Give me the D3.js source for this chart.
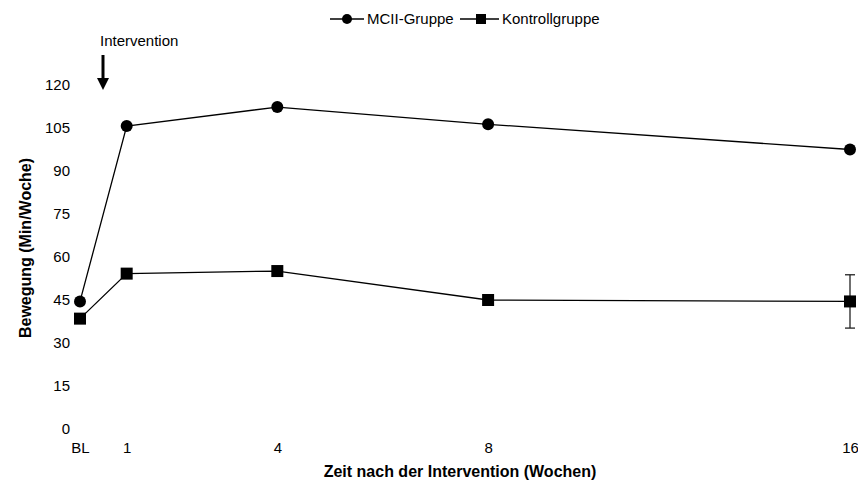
<!DOCTYPE html>
<html><head><meta charset="utf-8">
<script src="https://cdn.jsdelivr.net/npm/d3@7/dist/d3.min.js"></script>
<style>body{margin:0;background:#fff}svg{display:block}text{font-family:"Liberation Sans",Arial,sans-serif;fill:#000}</style>
</head><body><svg id="c" width="858" height="487"></svg>
<script>
const timeLabels = ["BL", "1", "4", "8", "16"];
const plotWeeks = [0, 0.97, 4.1, 8.48, 16];
const mciiValues = [44.5, 105.7, 112.3, 106.3, 97.5];
const controlValues = [38.5, 54.2, 55.1, 45, 44.5];
const controlErrors = [0, 0, 0, 0, 9.3];
const yTicks = [0, 15, 30, 45, 60, 75, 90, 105, 120];

const svg = d3.select("#c");
const x = d3.scaleLinear().domain([0, 16]).range([80, 850]);
const y = d3.scaleLinear().domain([0, 120]).range([429, 85]);

// y axis (labels only)
const yAxis = d3.axisLeft(y).tickValues(yTicks).tickSize(0).tickPadding(0);
const gy = svg.append("g").attr("transform", "translate(70,0)").call(yAxis);
gy.select(".domain").remove();
gy.selectAll("text").style("font-size", "15px").style("font-family", "Liberation Sans, Arial, sans-serif").attr("fill", "#000");

// x axis (labels only)
const xAxis = d3.axisBottom(x).tickValues(plotWeeks).tickFormat((d, i) => timeLabels[i]).tickSize(0).tickPadding(0);
const gx = svg.append("g").attr("transform", "translate(0,442)").call(xAxis);
gx.select(".domain").remove();
gx.selectAll("text").style("font-size", "15px").style("font-family", "Liberation Sans, Arial, sans-serif").attr("fill", "#000");

// axis titles
svg.append("text").attr("x", 460).attr("y", 477).attr("text-anchor", "middle")
  .style("font-size", "16px").style("font-weight", "bold").text("Zeit nach der Intervention (Wochen)");
svg.append("text").attr("transform", "translate(31,248) rotate(-90)").attr("text-anchor", "middle")
  .style("font-size", "16px").style("font-weight", "bold").text("Bewegung (Min/Woche)");

// lines
const line = d3.line().x((d, i) => x(plotWeeks[i])).y(d => y(d));
svg.append("path").datum(mciiValues).attr("d", line).attr("fill", "none").attr("stroke", "#000").attr("stroke-width", 1.3);
svg.append("path").datum(controlValues).attr("d", line).attr("fill", "none").attr("stroke", "#000").attr("stroke-width", 1.3);

// error bars
controlErrors.forEach((e, i) => {
  if (e <= 0) return;
  const cx = x(plotWeeks[i]);
  const g = svg.append("g").attr("stroke", "#222").attr("stroke-width", 1.3);
  g.append("line").attr("x1", cx).attr("x2", cx).attr("y1", y(controlValues[i] + e)).attr("y2", y(controlValues[i] - e));
  g.append("line").attr("x1", cx - 5).attr("x2", cx + 5).attr("y1", y(controlValues[i] + e)).attr("y2", y(controlValues[i] + e));
  g.append("line").attr("x1", cx - 5).attr("x2", cx + 5).attr("y1", y(controlValues[i] - e)).attr("y2", y(controlValues[i] - e));
});

// markers
svg.selectAll("circle.m").data(mciiValues).join("circle").attr("class", "m")
  .attr("cx", (d, i) => x(plotWeeks[i])).attr("cy", d => y(d)).attr("r", 6).attr("fill", "#000");
svg.selectAll("rect.k").data(controlValues).join("rect").attr("class", "k")
  .attr("x", (d, i) => x(plotWeeks[i]) - 6).attr("y", d => y(d) - 6).attr("width", 12).attr("height", 12).attr("fill", "#000");

// legend
const lg = svg.append("g");
lg.append("line").attr("x1", 330).attr("x2", 364).attr("y1", 19).attr("y2", 19).attr("stroke", "#000").attr("stroke-width", 1.3);
lg.append("circle").attr("cx", 347).attr("cy", 19).attr("r", 5).attr("fill", "#000");
lg.append("text").attr("x", 367).attr("y", 24).style("font-size", "15px").text("MCII-Gruppe");
lg.append("line").attr("x1", 460).attr("x2", 499).attr("y1", 19).attr("y2", 19).attr("stroke", "#000").attr("stroke-width", 1.3);
lg.append("rect").attr("x", 476).attr("y", 14).attr("width", 10).attr("height", 10).attr("fill", "#000");
lg.append("text").attr("x", 502).attr("y", 24).style("font-size", "15px").text("Kontrollgruppe");

// intervention annotation
svg.append("text").attr("x", 100).attr("y", 46).style("font-size", "15px").text("Intervention");
svg.append("line").attr("x1", 103).attr("x2", 103).attr("y1", 55).attr("y2", 80).attr("stroke", "#000").attr("stroke-width", 3);
svg.append("path").attr("d", d3.line()([[97, 78], [109, 78], [103, 90]])).attr("fill", "#000");
</script></body></html>
